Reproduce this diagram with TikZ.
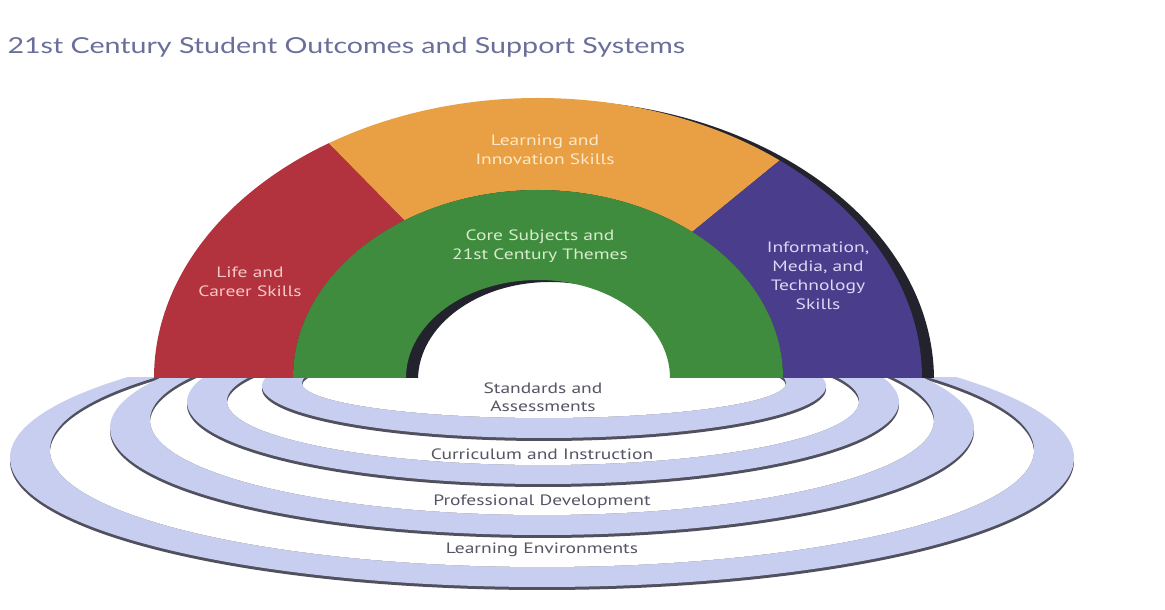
\documentclass[tikz,border=0pt]{standalone}
\usepackage{fontspec}
\newfontfamily\labelfont[FakeStretch=1.3]{PT Sans}
\newfontfamily\titlefont[FakeStretch=1.3]{Lato}
\definecolor{lifered}{RGB}{178,50,62}
\definecolor{learnorange}{RGB}{233,160,68}
\definecolor{coregreen}{RGB}{64,140,62}
\definecolor{infopurple}{RGB}{74,62,140}
\definecolor{ringblue}{RGB}{200,206,240}
\definecolor{ringedge}{RGB}{80,80,95}
\definecolor{archshadow}{RGB}{35,35,45}
\definecolor{titleblue}{RGB}{105,110,155}
\definecolor{lifetext}{RGB}{245,200,200}
\definecolor{learntext}{RGB}{253,232,200}
\definecolor{coretext}{RGB}{215,236,205}
\definecolor{infotext}{RGB}{220,215,245}
\definecolor{ringtext}{RGB}{85,85,100}
\tikzset{
  seglabel/.style={align=center,font=\labelfont\fontsize{15}{19}\selectfont},
  ringlabel/.style={align=center,text=ringtext,font=\labelfont\fontsize{15}{18}\selectfont},
}

\begin{document}
\begin{tikzpicture}[x=1pt,y=1pt]
\useasboundingbox (0,0) rectangle (1165,610);
\fill[white] (0,0) rectangle (1165,610);
\pgfmathsetmacro{\cx}{538}
\pgfmathsetmacro{\cy}{232}
\pgfmathsetmacro{\orx}{384}
\pgfmathsetmacro{\ory}{280}
\pgfmathsetmacro{\grx}{245}
\pgfmathsetmacro{\gry}{188}
\pgfmathsetmacro{\hrx}{132}
\pgfmathsetmacro{\hry}{98}
% support rings: outer rx/ry/cy, inner rx/ry/cy
\begin{scope}
\clip (0,0) rectangle (1165,\cy);
\foreach \ccx/\rx/\ry/\oy/\irx/\iry/\iy in {542/532/129/152/492/117/160, 542/432/107/182/392/95/190,
    543/356/82/208/316/64/209, 544/282/52/224/242/35/227} {
  \fill[ringedge] (\ccx,\oy-3) ellipse[x radius=\rx, y radius=\ry];
  \fill[ringblue] (\ccx,\oy) ellipse[x radius=\rx, y radius=\ry];
  \fill[ringedge] (\ccx,\iy) ellipse[x radius=\irx, y radius=\iry];
  \begin{scope}
    \clip (\ccx,\iy) ellipse[x radius=\irx, y radius=\iry];
    \fill[white] (\ccx,\iy-3) ellipse[x radius=\irx, y radius=\iry];
  \end{scope}
}
\end{scope}
% shadow of the arch
\begin{scope}
\clip (0,\cy) rectangle (1165,610);
\fill[archshadow,shift={(12,-2)}] (\cx-\orx,\cy) arc[start angle=180,end angle=0,x radius=\orx,y radius=\ory]
  -- (\cx+\hrx,\cy) arc[start angle=0,end angle=180,x radius=\hrx,y radius=\hry] -- cycle;
\end{scope}
% outcome segments
\fill[lifered] (\cx-\orx,\cy) arc[start angle=180,end angle=123,x radius=\orx,y radius=\ory]
  -- ({\cx+\grx*cos(123)},{\cy+\gry*sin(123)}) arc[start angle=123,end angle=180,x radius=\grx,y radius=\gry] -- cycle;
\fill[learnorange] ({\cx+\orx*cos(123)},{\cy+\ory*sin(123)}) arc[start angle=123,end angle=51,x radius=\orx,y radius=\ory]
  -- ({\cx+\grx*cos(51)},{\cy+\gry*sin(51)}) arc[start angle=51,end angle=123,x radius=\grx,y radius=\gry] -- cycle;
\fill[infopurple] ({\cx+\orx*cos(51)},{\cy+\ory*sin(51)}) arc[start angle=51,end angle=0,x radius=\orx,y radius=\ory]
  -- (\cx+\grx,\cy) arc[start angle=0,end angle=51,x radius=\grx,y radius=\gry] -- cycle;
\fill[coregreen] (\cx-\grx,\cy) arc[start angle=180,end angle=0,x radius=\grx,y radius=\gry]
  -- (\cx+\hrx,\cy) arc[start angle=0,end angle=180,x radius=\hrx,y radius=\hry] -- cycle;
% labels
\node[anchor=west,text=titleblue,font=\titlefont\fontsize{22}{25}\selectfont] (title) at (4,563) {21st Century Student Outcomes and Support Systems};
\node[seglabel,text=lifetext] (life) at (250,328) {Life and\\Career Skills};
\node[seglabel,text=learntext] (learn) at (545,460) {Learning and\\Innovation Skills};
\node[seglabel,text=coretext] (core) at (540,364) {Core Subjects and\\21st Century Themes};
\node[seglabel,text=infotext] (info) at (818,334) {Information,\\Media, and\\Technology\\Skills};
\node[ringlabel] (standards) at (543,213) {Standards and\\Assessments};
\node[ringlabel] (curriculum) at (542,156) {Curriculum and Instruction};
\node[ringlabel] (profdev) at (542,108) {Professional Development};
\node[ringlabel] (learnenv) at (542,60) {Learning Environments};
\end{tikzpicture}
\end{document}
